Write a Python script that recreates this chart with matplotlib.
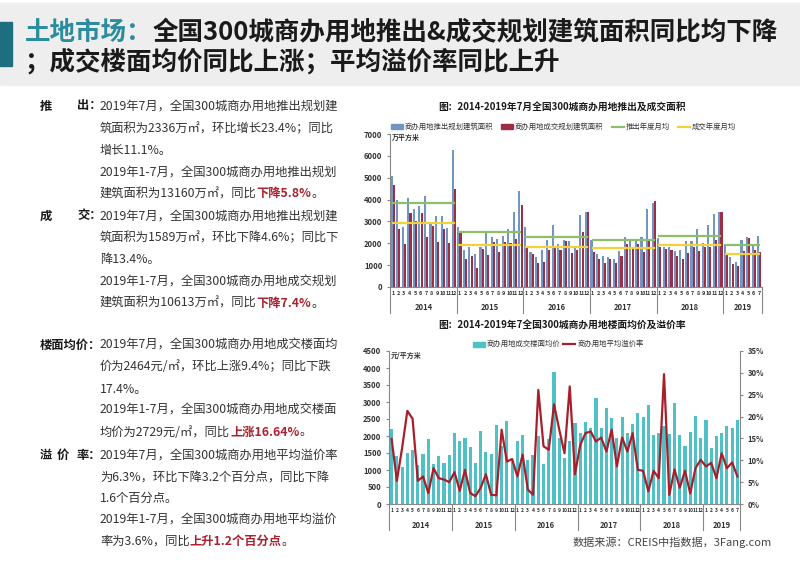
import matplotlib
matplotlib.use("Agg")
from matplotlib import pyplot as plt
from matplotlib.patches import Rectangle
from matplotlib.lines import Line2D

plt.rcParams['font.family'] = ['Noto Sans CJK SC', 'DejaVu Sans']

W, H = 800, 565

years = ['2014', '2015', '2016', '2017', '2018', '2019']
months_per_year = [12, 12, 12, 12, 12, 7]

# 推出规划建筑面积 (万平方米)
supply = [5100, 4000, 2750, 4050, 3550, 3700, 4150, 2900, 3250, 3250, 2700, 6250,
          2750, 1700, 1850, 1500, 1850, 2550, 2300, 2200, 2350, 2650, 3450, 4400,
          2750, 1600, 1350, 1700, 2150, 2850, 1950, 2150, 2100, 1800, 3300, 3450,
          2150, 1500, 1400, 1350, 1300, 1650, 2300, 2200, 2150, 2300, 3550, 3850,
          2250, 1850, 1850, 1650, 1700, 2100, 2100, 2650, 2000, 2850, 3350, 3450,
          1960, 1350, 1150, 2160, 2310, 1890, 2340]
# 成交规划建筑面积
deal = [4650, 2650, 1950, 3400, 3000, 3400, 2300, 2800, 2050, 2650, 2000, 4500,
        2450, 1300, 1400, 850, 1750, 1450, 2050, 1600, 2050, 2000, 2200, 3750,
        1850, 1500, 1100, 1150, 1700, 1850, 1700, 2100, 1550, 1700, 2500, 3450,
        1600, 1300, 1100, 1300, 1100, 1400, 1950, 1750, 1950, 1600, 2100, 3950,
        1850, 1750, 1700, 1400, 1300, 1550, 1850, 1650, 1850, 1850, 2150, 3450,
        1490, 1040, 970, 1640, 2220, 1670, 1590]
supply_avg = [3850, 2500, 2300, 2150, 2350, 1900]
deal_avg = [2950, 1900, 1850, 1800, 1900, 1500]

# 楼面均价 (元/平方米)
price = [2200, 1420, 1100, 1500, 1600, 1150, 1480, 1900, 1170, 1400, 1200, 1450,
         2080, 1860, 1930, 1670, 1210, 2160, 1540, 1480, 2320, 1700, 2450, 1260,
         1850, 2040, 1300, 1450, 2000, 1180, 1900, 3880, 1940, 1350, 1850, 2380,
         2100, 2400, 2230, 3110, 2230, 2820, 2540, 1940, 2570, 2080, 2350, 2670,
         2570, 2900, 2040, 2090, 2280, 2060, 2980, 2040, 1720, 2130, 2590, 1950,
         2480, 1640, 1990, 2090, 2280, 2250, 2460]
# 平均溢价率 (%)
premium = [14.9, 5.3, 12.8, 21.3, 19.5, 5.3, 6.3, 2.5, 8.2, 5.9, 5.6, 5.0,
           7.3, 3.0, 7.8, 2.5, 1.8, 3.7, 6.8, 2.1, 2.0, 17.0, 9.7, 10.3,
           6.3, 11.3, 3.3, 2.1, 26.1, 13.2, 12.4, 22.8, 17.0, 11.6, 26.9, 6.8,
           13.5, 16.2, 16.6, 14.3, 15.2, 12.0, 17.0, 8.6, 15.2, 12.0, 16.2, 7.8,
           7.6, 2.9, 7.6, 5.9, 29.7, 2.1, 7.9, 3.7, 7.6, 2.4, 8.2, 10.1,
           8.6, 9.4, 5.9, 11.6, 8.2, 9.5, 6.3]

title_1 = [("土地市场：", '#2a8c9c'), ("全国300城商办用地推出&成交规划建筑面积同比均下降", '#1a1a1a')]
title_2 = "；成交楼面均价同比上涨；平均溢价率同比上升"

RED = '#a8232f'
BODY = '#333333'
# (y, label pieces, body runs)
left_rows = [
    (106, [("推", 40), ("出：", 77)], [("2019年7月，全国300城商办用地推出规划建", BODY, 'normal')]),
    (129, [], [("筑面积为2336万㎡，环比增长23.4%；同比", BODY, 'normal')]),
    (151, [], [("增长11.1%。", BODY, 'normal')]),
    (172, [], [("2019年1-7月，全国300城商办用地推出规划", BODY, 'normal')]),
    (194, [], [("建筑面积为13160万㎡，同比", BODY, 'normal'), ("下降5.8%", RED, 'bold'), ("。", BODY, 'normal')]),
    (216, [("成", 40), ("交：", 77)], [("2019年7月，全国300城商办用地推出规划建", BODY, 'normal')]),
    (238, [], [("筑面积为1589万㎡，环比下降4.6%；同比下", BODY, 'normal')]),
    (260, [], [("降13.4%。", BODY, 'normal')]),
    (282, [], [("2019年1-7月，全国300城商办用地成交规划", BODY, 'normal')]),
    (303, [], [("建筑面积为10613万㎡，同比", BODY, 'normal'), ("下降7.4%", RED, 'bold'), ("。", BODY, 'normal')]),
    (345, [("楼面均价：", 40)], [("2019年7月，全国300城商办用地成交楼面均", BODY, 'normal')]),
    (367, [], [("价为2464元/㎡，环比上涨9.4%；同比下跌", BODY, 'normal')]),
    (389, [], [("17.4%。", BODY, 'normal')]),
    (410, [], [("2019年1-7月，全国300城商办用地成交楼面", BODY, 'normal')]),
    (432, [], [("均价为2729元/㎡，同比", BODY, 'normal'), ("上涨16.64%", RED, 'bold'), ("。", BODY, 'normal')]),
    (455, [("溢", 40), ("价", 57), ("率：", 77)], [("2019年7月，全国300城商办用地平均溢价率", BODY, 'normal')]),
    (477, [], [("为6.3%，环比下降3.2个百分点，同比下降", BODY, 'normal')]),
    (498, [], [("1.6个百分点。", BODY, 'normal')]),
    (519, [], [("2019年1-7月，全国300城商办用地平均溢价", BODY, 'normal')]),
    (541, [], [("率为3.6%，同比", BODY, 'normal'), ("上升1.2个百分点", RED, 'bold'), ("。", BODY, 'normal')]),
]

fig = plt.figure(figsize=(W / 100, H / 100), dpi=100)
fig.patch.set_facecolor('white')
renderer = fig.canvas.get_renderer()


def fpos(px, py):
    return px / W, 1 - py / H


def put_runs(x, y, parts, size):
    for s, color, weight in parts:
        t = fig.text(*fpos(x, y), s, fontsize=size, color=color, fontweight=weight,
                     ha='left', va='center')
        x += t.get_window_extent(renderer=renderer).width
    return x


# header band
fig.add_artist(Rectangle(fpos(0, 85), 1, 82 / H, transform=fig.transFigure,
                         color='#eeeeee', zorder=0))
fig.add_artist(Rectangle(fpos(0, 66), 12 / W, 44 / H, transform=fig.transFigure,
                         color='#1d6f7f', zorder=1))
put_runs(25, 33, [(s, c, 'bold') for s, c in title_1], 18.4)
put_runs(25, 62, [(title_2, '#1a1a1a', 'bold')], 18.4)

# left text
for y, labels, body in left_rows:
    for s, x in labels:
        fig.text(*fpos(x, y), s, fontsize=8.85, color='#1a1a1a', fontweight='bold',
                 ha='left', va='center')
    put_runs(100, y, body, 8.85)

# month positions
idx = list(range(sum(months_per_year)))
month_labels = []
starts = []
n = 0
for m in months_per_year:
    starts.append(n)
    month_labels += [str(k + 1) for k in range(m)]
    n += m


def year_axis(ax, sep_depth, year_y, label_size):
    ax.set_xlim(-0.5, n - 0.5)
    ax.set_xticks(idx)
    ax.set_xticklabels(month_labels, fontsize=label_size, fontweight='bold', color='#333333')
    ax.tick_params(axis='x', length=0, pad=3)
    bounds = starts + [n]
    for b in bounds:
        ax.plot([b - 0.5, b - 0.5], [0, -sep_depth], transform=ax.get_xaxis_transform(),
                color='#888888', lw=0.8, clip_on=False)
    for s, m, yr in zip(starts, months_per_year, years):
        ax.text(s + (m - 1) / 2, year_y, yr, transform=ax.get_xaxis_transform(),
                ha='center', va='center', fontsize=5.5, fontweight='bold', color='#333333')
    for sp in ['top', 'right']:
        ax.spines[sp].set_visible(False)
    ax.spines['left'].set_color('#888888')
    ax.spines['bottom'].set_color('#888888')
    ax.tick_params(axis='y', labelsize=5.5, length=2, color='#888888', labelcolor='#333333')
    for lab in ax.get_yticklabels():
        lab.set_fontweight('bold')


# ---- top chart ----
ax1 = fig.add_axes([390 / W, 1 - 287 / H, 372 / W, 153 / H])
ax1.bar([i - 0.2 for i in idx], supply, width=0.38, color='#7196c4', zorder=2)
ax1.bar([i + 0.2 for i in idx], deal, width=0.38, color='#9e2d46', zorder=2)
for s, m, a, b in zip(starts, months_per_year, supply_avg, deal_avg):
    ax1.plot([s, s + m - 1], [a, a], color='#8cbf6a', lw=1.6, zorder=3)
    ax1.plot([s, s + m - 1], [b, b], color='#f3d13c', lw=1.6, zorder=3)
ax1.set_ylim(0, 7000)
ax1.set_yticks(range(0, 7001, 1000))
year_axis(ax1, 0.17, -0.135, 3.9)
ax1.text(0.005, 0.98, "万平方米", transform=ax1.transAxes, fontsize=5, fontweight='bold',
         ha='left', va='center', color='#333333')

fig.text(*fpos(562, 108), "图：2014-2019年7月全国300城商办用地推出及成交面积", fontsize=7,
         fontweight='bold', ha='center', va='center', color='#1a1a1a')
leg_y = 127
fig.add_artist(Rectangle(fpos(391, leg_y + 2.5), 12 / W, 5 / H, transform=fig.transFigure, color='#7196c4'))
fig.text(*fpos(405, leg_y), "商办用地推出规划建筑面积", fontsize=5.3, ha='left', va='center', color='#333333')
fig.add_artist(Rectangle(fpos(501, leg_y + 2.5), 12 / W, 5 / H, transform=fig.transFigure, color='#9e2d46'))
fig.text(*fpos(515, leg_y), "商办用地成交规划建筑面积", fontsize=5.3, ha='left', va='center', color='#333333')
fig.add_artist(Line2D([612 / W, 624 / W], [1 - leg_y / H] * 2, transform=fig.transFigure, color='#8cbf6a', lw=1.6))
fig.text(*fpos(626, leg_y), "推出年度月均", fontsize=5.3, ha='left', va='center', color='#333333')
fig.add_artist(Line2D([678 / W, 690 / W], [1 - leg_y / H] * 2, transform=fig.transFigure, color='#f3d13c', lw=1.6))
fig.text(*fpos(692, leg_y), "成交年度月均", fontsize=5.3, ha='left', va='center', color='#333333')

# ---- bottom chart ----
ax2 = fig.add_axes([389 / W, 1 - 504 / H, 351 / W, 153 / H])
ax2.bar(idx, price, width=0.6, color='#4fc0c6', zorder=2)
ax2.set_ylim(0, 4500)
ax2.set_yticks(range(0, 4501, 500))
year_axis(ax2, 0.17, -0.14, 3.6)
ax2.text(0.005, 0.97, "元/平方米", transform=ax2.transAxes, fontsize=5, fontweight='bold',
         ha='left', va='center', color='#333333')
ax3 = ax2.twinx()
ax3.plot(idx, premium, color='#a81f2c', lw=1.6, solid_joinstyle='round', zorder=4)
ax3.set_ylim(0, 35)
ax3.set_yticks(range(0, 36, 5))
ax3.set_yticklabels([f"{v}%" for v in range(0, 36, 5)], fontsize=5.5, fontweight='bold', color='#333333')
ax3.tick_params(axis='y', length=2, color='#888888')
for sp in ['top', 'left', 'bottom']:
    ax3.spines[sp].set_visible(False)
ax3.spines['right'].set_color('#888888')

fig.text(*fpos(562, 326), "图：2014-2019年7全国300城商办用地楼面均价及溢价率", fontsize=7,
         fontweight='bold', ha='center', va='center', color='#1a1a1a')
leg_y = 344
fig.add_artist(Rectangle(fpos(473, leg_y + 2.5), 12 / W, 5 / H, transform=fig.transFigure, color='#4fc0c6'))
fig.text(*fpos(487, leg_y), "商办用地成交楼面均价", fontsize=5.3, ha='left', va='center', color='#333333')
fig.add_artist(Line2D([563 / W, 575 / W], [1 - leg_y / H] * 2, transform=fig.transFigure, color='#a81f2c', lw=1.6))
fig.text(*fpos(578, leg_y), "商办用地平均溢价率", fontsize=5.3, ha='left', va='center', color='#333333')

fig.text(*fpos(772, 542), "数据来源：CREIS中指数据，3Fang.com", fontsize=8, ha='right',
         va='center', color='#444444')

fig.savefig("out.png", dpi=100)
